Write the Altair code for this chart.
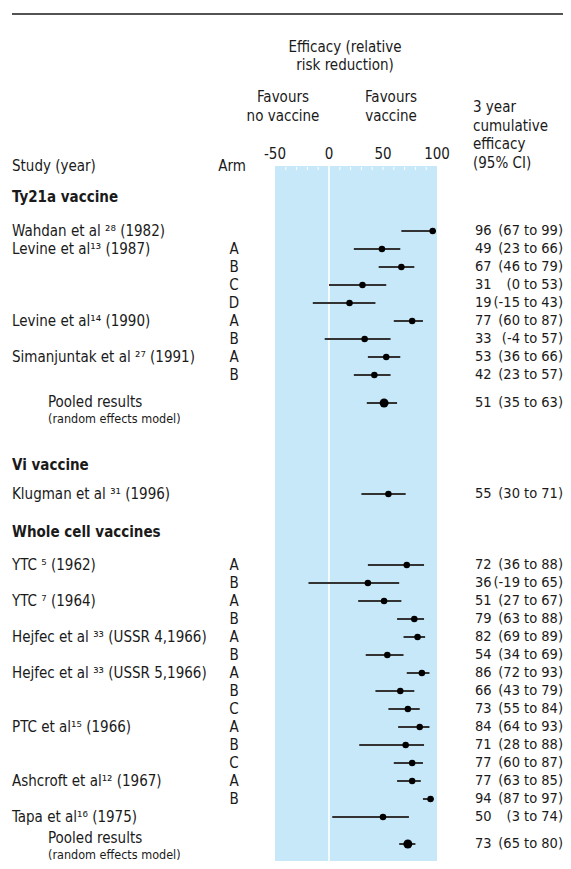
import altair as alt
import pandas as pd

# ---------------- data ----------------
ty21a_study = ["Wahdan et al ²⁸ (1982)", "Levine et al¹³  (1987)", "", "", "",
               "Levine et al¹⁴  (1990)", "", "Simanjuntak et al ²⁷ (1991)", ""]
ty21a_arm = ["", "A", "B", "C", "D", "A", "B", "A", "B"]
ty21a_eff = [96, 49, 67, 31, 19, 77, 33, 53, 42]
ty21a_lo = [67, 23, 46, 0, -15, 60, -4, 36, 23]
ty21a_hi = [99, 66, 79, 53, 43, 87, 57, 66, 57]
ty21a_pooled = [51, 35, 63]

vi_study = ["Klugman et al ³¹  (1996)"]
vi_arm = [""]
vi_eff = [55]
vi_lo = [30]
vi_hi = [71]

wc_study = ["YTC ⁵  (1962)", "", "YTC ⁷  (1964)", "", "Hejfec et al ³³  (USSR 4,1966)", "",
            "Hejfec et al ³³  (USSR 5,1966)", "", "", "PTC et al¹⁵  (1966)", "", "",
            "Ashcroft et al¹²  (1967)", "", "Tapa et al¹⁶  (1975)"]
wc_arm = ["A", "B", "A", "B", "A", "B", "A", "B", "C", "A", "B", "C", "A", "B", ""]
wc_eff = [72, 36, 51, 79, 82, 54, 86, 66, 73, 84, 71, 77, 77, 94, 50]
wc_lo = [36, -19, 27, 63, 69, 34, 72, 43, 55, 64, 28, 60, 63, 87, 3]
wc_hi = [88, 65, 67, 88, 89, 69, 93, 79, 84, 93, 88, 87, 85, 97, 74]
wc_pooled = [73, 65, 80]

group_names = ["Ty21a vaccine", "Vi vaccine", "Whole cell vaccines"]
tick_vals = [-50, 0, 50, 100]

# ---------------- layout ----------------
FONT = "'Liberation Sans Narrow', 'DejaVu Sans Condensed', 'Roboto', sans-serif"
FS = 15
M = 8  # page margin
ROW = 18
W, H = 555, 853

def P(y):
    return y - M

rows = []
heads = []
pooled_lbl = []

def add_group(name, head_y, first_gap, study, arm, eff, lo, hi, pooled, pooled_gap, lbl_off):
    heads.append({"y": P(head_y), "t": name})
    y = head_y + first_gap
    for s, a, e, l, h in zip(study, arm, eff, lo, hi):
        rows.append({"y": P(y), "study": s, "arm": a, "eff": e, "lo": l, "hi": h,
                     "val": str(e), "ci": f"({l} to {h})", "pooled": False})
        y += ROW
    last = y - ROW
    if pooled is not None:
        py = last + pooled_gap
        e, l, h = pooled
        rows.append({"y": P(py), "study": "", "arm": "", "eff": e, "lo": l, "hi": h,
                     "val": str(e), "ci": f"({l} to {h})", "pooled": True})
        pooled_lbl.append({"y": P(py + lbl_off), "t": "Pooled results", "sz": FS})
        pooled_lbl.append({"y": P(py + lbl_off + 17), "t": "(random effects model)", "sz": 12.5})
    return last

add_group(group_names[0], 197, 34, ty21a_study, ty21a_arm, ty21a_eff, ty21a_lo, ty21a_hi, ty21a_pooled, 28, -1)
add_group(group_names[1], 465, 29, vi_study, vi_arm, vi_eff, vi_lo, vi_hi, None, 0, 0)
add_group(group_names[2], 532, 33, wc_study, wc_arm, wc_eff, wc_lo, wc_hi, wc_pooled, 27, -6)

df = pd.DataFrame(rows)
heads_df = pd.DataFrame(heads)
pooled_df = pd.DataFrame(pooled_lbl)

xs = alt.Scale(domain=[-50, 100], range=[275 - M, 437 - M])
ys = alt.Scale(domain=[0, H], range=[0, H])

band_top, band_bot = P(166), P(866)

band = alt.Chart(pd.DataFrame({"a": [tick_vals[0]], "b": [tick_vals[-1]]})).mark_rect(
    color="#c7e8f8").encode(
    x=alt.X("a:Q", scale=xs, axis=None), x2="b:Q",
    y=alt.value(band_top), y2=alt.value(band_bot))

zero = alt.Chart(pd.DataFrame({"z": [0]})).mark_rule(color="white", strokeWidth=1.6).encode(
    x=alt.X("z:Q", scale=xs), y=alt.value(band_top), y2=alt.value(band_bot))

minor = [v for v in range(-40, 100, 10) if v != 0]
minor_ticks = alt.Chart(pd.DataFrame({"m": minor})).mark_rule(color="white", strokeWidth=1).encode(
    x=alt.X("m:Q", scale=xs), y=alt.value(band_top + 1), y2=alt.value(band_top + 4))

tick_lbl = alt.Chart(pd.DataFrame({"t": tick_vals})).mark_text(
    font=FONT, fontSize=FS, color="#1a1a1a", baseline="middle", align="center").encode(
    x=alt.X("t:Q", scale=xs), y=alt.value(P(154)), text="t:N")

ci = alt.Chart(df).mark_rule(color="#333333", strokeWidth=2).encode(
    x=alt.X("lo:Q", scale=xs), x2="hi:Q", y=alt.Y("y:Q", scale=ys, axis=None))

pts = alt.Chart(df).transform_filter("!datum.pooled").mark_circle(
    color="black", opacity=1, size=42).encode(
    x=alt.X("eff:Q", scale=xs), y=alt.Y("y:Q", scale=ys))

pts_pooled = alt.Chart(df).transform_filter("datum.pooled").mark_circle(
    color="black", opacity=1, size=80).encode(
    x=alt.X("eff:Q", scale=xs), y=alt.Y("y:Q", scale=ys))

def txt(data, field, x, align="left", size=FS, weight="normal"):
    return alt.Chart(data).mark_text(font=FONT, fontSize=size, fontWeight=weight,
                                     color="#1a1a1a", align=align, baseline="middle").encode(
        x=alt.value(x), y=alt.Y("y:Q", scale=ys), text=f"{field}:N")

study_t = txt(df, "study", P(12))
arm_t = txt(df, "arm", P(234), align="center")
val_t = txt(df, "val", P(475), size=14.5)
ci_t = txt(df, "ci", P(563), align="right", size=14.5)
head_t = txt(heads_df, "t", P(12), weight="bold")
pooled_t = alt.Chart(pooled_df).mark_text(font=FONT, color="#1a1a1a", align="left",
                                          baseline="middle").encode(
    x=alt.value(P(48)), y=alt.Y("y:Q", scale=ys), text="t:N",
    size=alt.Size("sz:Q", scale=None, legend=None))

# header texts
hdr = pd.DataFrame([
    {"x": P(345), "y": P(47), "t": "Efficacy (relative", "a": "center"},
    {"x": P(345), "y": P(65), "t": "risk reduction)", "a": "center"},
    {"x": P(283), "y": P(97), "t": "Favours", "a": "center"},
    {"x": P(283), "y": P(116), "t": "no vaccine", "a": "center"},
    {"x": P(391), "y": P(97), "t": "Favours", "a": "center"},
    {"x": P(391), "y": P(116), "t": "vaccine", "a": "center"},
    {"x": P(473), "y": P(107), "t": "3 year", "a": "left"},
    {"x": P(473), "y": P(126), "t": "cumulative", "a": "left"},
    {"x": P(473), "y": P(144), "t": "efficacy", "a": "left"},
    {"x": P(473), "y": P(163), "t": "(95% CI)", "a": "left"},
    {"x": P(12), "y": P(166), "t": "Study (year)", "a": "left"},
    {"x": P(232), "y": P(166), "t": "Arm", "a": "center"},
])
hdr_layers = []
for a in ["center", "left"]:
    hdr_layers.append(alt.Chart(hdr[hdr.a == a]).mark_text(
        font=FONT, fontSize=FS, color="#1a1a1a", align=a, baseline="middle").encode(
        x=alt.X("x:Q", scale=None), y=alt.Y("y:Q", scale=None), text="t:N"))

top_line = alt.Chart(pd.DataFrame({"k": [0]})).mark_rule(color="#1a1a1a", strokeWidth=1.5).encode(
    x=alt.value(P(12)), x2=alt.value(W), y=alt.value(P(14)))

chart = alt.layer(band, zero, minor_ticks, tick_lbl, ci, pts, pts_pooled,
                  study_t, arm_t, val_t, ci_t, head_t, pooled_t, *hdr_layers, top_line).properties(
    width=W, height=H, autosize=alt.AutoSizeParams(type="none"), padding=0
).configure_view(stroke=None).resolve_scale(x="shared", y="shared")

chart.save("out.html", embed_options={"renderer": "svg", "actions": False})
